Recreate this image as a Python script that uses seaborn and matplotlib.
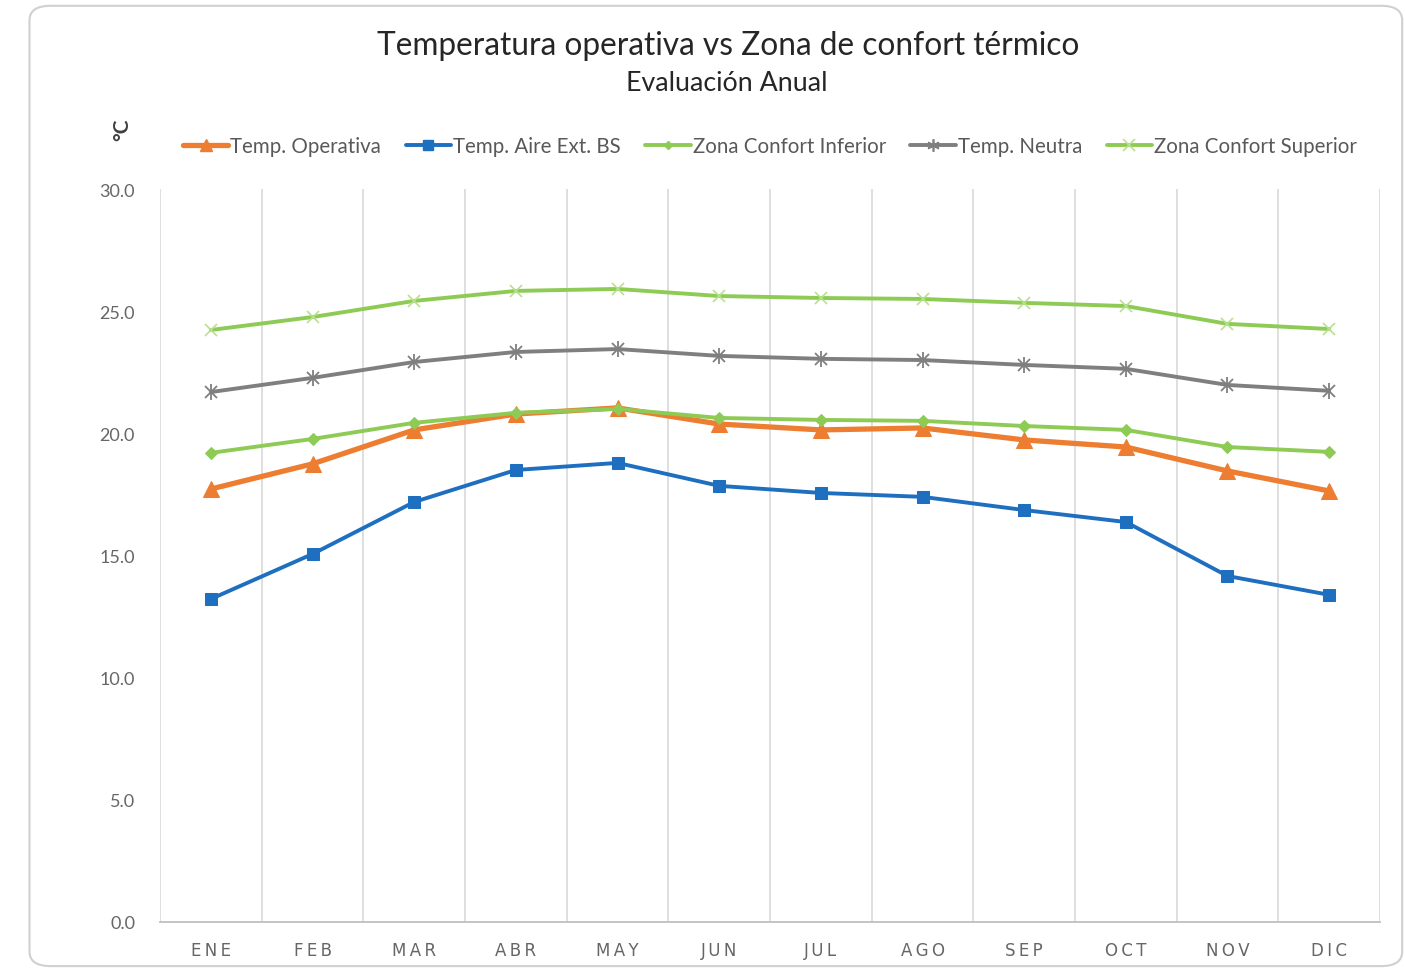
import matplotlib
matplotlib.use("Agg")
import matplotlib.pyplot as plt
from matplotlib.patches import FancyBboxPatch
from matplotlib.lines import Line2D
import seaborn as sns
import pandas as pd

meses = ["ENE", "FEB", "MAR", "ABR", "MAY", "JUN", "JUL", "AGO", "SEP", "OCT", "NOV", "DIC"]

temp_operativa = [17.72, 18.75, 20.14, 20.79, 21.04, 20.38, 20.14, 20.22, 19.73, 19.44, 18.46, 17.64]
temp_aire_ext = [13.22, 15.06, 17.19, 18.50, 18.79, 17.85, 17.56, 17.40, 16.86, 16.37, 14.16, 13.39]
confort_inferior = [19.20, 19.77, 20.43, 20.84, 21.00, 20.63, 20.55, 20.51, 20.30, 20.14, 19.44, 19.24]
temp_neutra = [21.69, 22.27, 22.92, 23.33, 23.45, 23.17, 23.05, 23.00, 22.80, 22.64, 21.98, 21.74]
confort_superior = [24.23, 24.76, 25.42, 25.83, 25.91, 25.62, 25.54, 25.50, 25.34, 25.21, 24.48, 24.27]

y_ticks = [0.0, 5.0, 10.0, 15.0, 20.0, 25.0, 30.0]

series = [
    ("Temp. Operativa", temp_operativa, "#ED7D31", "^", 11, 3.8),
    ("Temp. Aire Ext. BS", temp_aire_ext, "#1F6FC0", "s", 9, 2.8),
    ("Zona Confort Inferior", confort_inferior, "#8DCB55", "D", 6, 2.8),
    ("Temp. Neutra", temp_neutra, "#7F7F7F", "*", 0, 2.8),
    ("Zona Confort Superior", confort_superior, "#8DCB55", "x", 9, 2.8),
]

frames = []
for name, vals, *_ in series:
    frames.append(pd.DataFrame({"mes": meses, "valor": vals, "serie": name}))
df = pd.concat(frames, ignore_index=True)

sns.set_theme(style="white")
plt.rcParams["font.family"] = ["Lato", "DejaVu Sans"]

fig = plt.figure(figsize=(14.05, 9.70), dpi=100)
ax = fig.add_axes([0.1139, 0.0485, 0.8683, 0.7556])

# rounded chart frame
frame = FancyBboxPatch((0.021, 0.003), 0.977, 0.99, boxstyle="round,pad=0,rounding_size=0.015",
                       transform=fig.transFigure, facecolor="none", edgecolor="#D0D0D0",
                       linewidth=1.5, zorder=0)
fig.patches.append(frame)

handles = []
for name, vals, color, marker, msize, lw in series:
    sub = df[df["serie"] == name]
    if marker == "*":
        sns.lineplot(data=sub, x="mes", y="valor", ax=ax, color=color, linewidth=lw,
                     marker=None, legend=False, sort=False)
        ax.plot(range(len(meses)), vals, linestyle="none", marker="x", markersize=9,
                markeredgewidth=1.3, color=color, zorder=4)
        ax.plot(range(len(meses)), vals, linestyle="none", marker="|", markersize=11,
                markeredgewidth=1.3, color=color, zorder=4)
        h = Line2D([], [], color=color, linewidth=lw, marker=(6, 2, 0), markersize=9,
                   markeredgewidth=1.2)
    elif marker == "x":
        sns.lineplot(data=sub, x="mes", y="valor", ax=ax, color=color, linewidth=lw,
                     marker="x", markersize=msize, markeredgewidth=1.2,
                     markeredgecolor="#B8E08F", legend=False, sort=False)
        h = Line2D([], [], color=color, linewidth=lw, marker="x", markersize=msize,
                   markeredgewidth=1.2, markeredgecolor="#B8E08F")
    else:
        sns.lineplot(data=sub, x="mes", y="valor", ax=ax, color=color, linewidth=lw,
                     marker=marker, markersize=msize, markeredgecolor=color,
                     legend=False, sort=False)
        h = Line2D([], [], color=color, linewidth=lw, marker=marker,
                   markersize=msize * 0.75, markeredgecolor=color)
    handles.append(h)

ax.set_xlim(-0.5, len(meses) - 0.5)
ax.set_ylim(0, 30)
ax.set_yticks(y_ticks)
ax.set_yticklabels([f"{v:.1f}" for v in y_ticks])
ax.set_xlabel("")
ax.set_ylabel("")

# vertical gridlines between categories
for b in range(len(meses) + 1):
    ax.axvline(b - 0.5, color="#D9D9D9", linewidth=1.2, zorder=0)

for s in ["left", "right", "top"]:
    ax.spines[s].set_visible(False)
ax.spines["bottom"].set_color("#BFBFBF")
ax.spines["bottom"].set_linewidth(1.3)

ax.tick_params(axis="y", length=0, pad=18, labelsize=13, labelcolor="#666666")
ax.tick_params(axis="x", length=0, pad=14, labelsize=13, labelcolor="#666666")
ax.set_xticks(range(len(meses)))
ax.set_xticklabels(["\u2009".join(m) for m in meses], family=["DejaVu Sans"], fontsize=12)

fig.text(0.518, 0.953, "Temperatura operativa vs Zona de confort térmico",
         ha="center", va="center", fontsize=22.8, color="#262626")
fig.text(0.517, 0.914, "Evaluación Anual", ha="center", va="center", fontsize=19.3,
         color="#262626")
fig.text(0.087, 0.866, "°C", ha="center", va="center", rotation=90, fontsize=15,
         fontweight="bold", color="#404040")

fig.legend(handles, [s[0] for s in series], loc="center", ncol=5,
           bbox_to_anchor=(0.548, 0.848), frameon=False, fontsize=14.8,
           handlelength=2.2, handletextpad=0.1, columnspacing=1.2,
           labelcolor="#595959")

fig.savefig("out.png", dpi=100, facecolor="white")
